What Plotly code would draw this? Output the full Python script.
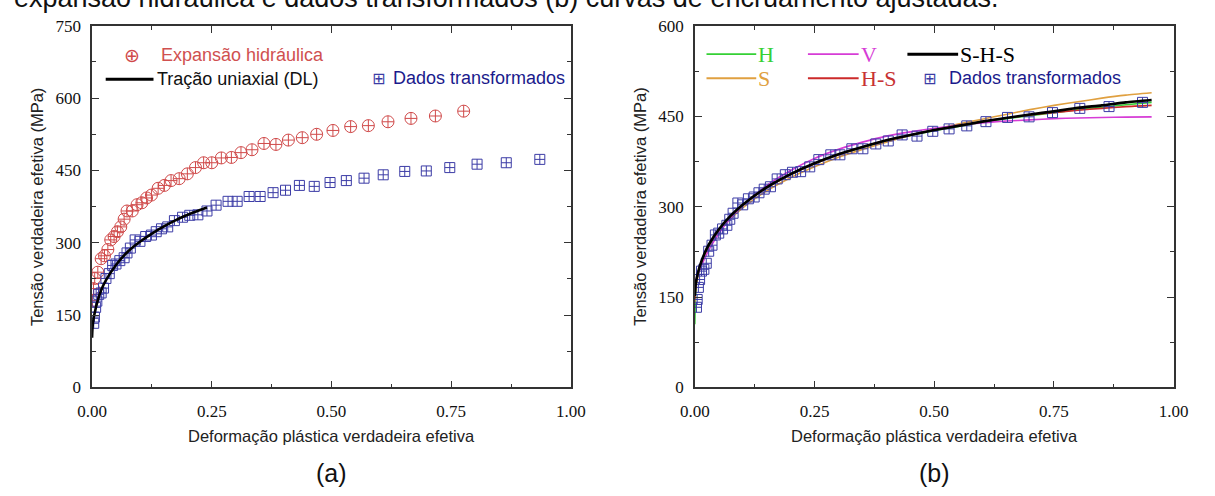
import plotly.graph_objects as go

# ---------------- data ----------------
strain_exp = [0.001, 0.003, 0.0055, 0.012, 0.019, 0.026, 0.033, 0.039, 0.046, 0.053,
              0.060, 0.067, 0.073, 0.084, 0.094, 0.104, 0.114, 0.124, 0.138, 0.151,
              0.165, 0.182, 0.199, 0.216, 0.233, 0.250, 0.270, 0.291, 0.311, 0.334,
              0.359, 0.384, 0.410, 0.439, 0.469, 0.503, 0.540, 0.577, 0.618, 0.666,
              0.717, 0.776]
stress_exp = [180, 205, 226, 239, 267, 273, 286, 306, 313, 323,
              333, 349, 366, 366, 379, 383, 393, 399, 413, 419,
              429, 433, 443, 456, 466, 466, 476, 477, 487, 493,
              506, 504, 513, 518, 525, 533, 541, 543, 551, 558,
              563, 573]

strain_tr = [0.0035, 0.005, 0.0075, 0.010, 0.014, 0.019, 0.024, 0.029, 0.036, 0.043,
             0.050, 0.058, 0.067, 0.073, 0.080, 0.090, 0.100, 0.112, 0.124, 0.134,
             0.145, 0.158, 0.172, 0.189, 0.204, 0.221, 0.240, 0.259, 0.284, 0.303,
             0.328, 0.351, 0.378, 0.404, 0.433, 0.464, 0.497, 0.531, 0.568, 0.608,
             0.653, 0.698, 0.747, 0.804, 0.865, 0.935]
stress_tr = [133, 146, 166, 179, 193, 196, 206, 226, 236, 253,
             256, 263, 269, 279, 289, 306, 303, 313, 316, 323,
             329, 333, 346, 353, 357, 358, 366, 378, 386, 386,
             396, 396, 404, 409, 419, 417, 425, 429, 434, 441,
             448, 449, 456, 463, 466, 473]

strain_dl = [0, 0.001, 0.003, 0.005, 0.01, 0.02, 0.03, 0.05, 0.075, 0.1,
             0.125, 0.15, 0.175, 0.2, 0.22, 0.24]
stress_dl = [103, 125, 142, 152, 174, 204, 224, 254, 282, 302,
             319, 334, 347, 358, 366, 373]

strain_fit = [0, 0.002, 0.005, 0.01, 0.02, 0.03, 0.05, 0.075, 0.1, 0.15, 0.2, 0.25,
              0.3, 0.35, 0.4, 0.45, 0.5, 0.55, 0.6, 0.65, 0.7, 0.75, 0.8, 0.85, 0.9, 0.954]
stress_H = [105, 160, 182, 199, 221, 237, 261, 284, 302, 331, 353, 371,
            386, 398, 409, 418, 426, 433, 440, 446, 451, 456, 461, 465, 469, 473]
stress_S = [140, 165, 178, 195, 218, 234, 258, 280, 298, 326, 348, 366,
            382, 395, 407, 418, 428, 437, 445, 453, 461, 468, 474, 480, 485, 489]
stress_V = [172, 178, 185, 195, 213, 229, 255, 281, 302, 335, 360, 380,
            395, 407, 417, 424, 430, 435, 439, 442, 444, 446, 447, 448, 448.5, 449]
stress_HS = [145, 168, 183, 199, 221, 237, 261, 284, 302, 331, 353, 371,
             386, 399, 410, 419, 427, 434, 441, 447, 452, 456, 460, 463, 466, 468]
stress_SHS = [152, 172, 185, 200, 222, 238, 262, 285, 303, 332, 354, 372,
              387, 399, 410, 419, 427, 434, 441, 447, 453, 458, 464, 468, 473, 477]

xticks = [0, 0.25, 0.5, 0.75, 1.0]
yticks_a = [0, 150, 300, 450, 600, 750]
yticks_b = [0, 150, 300, 450, 600]

# ---------------- styles ----------------
W, H = 1215, 496
RED_M = "#d04a4a"
BLUE_M = "#3c3ca6"
C_H = "#35d035"
C_V = "#d63cd6"
C_S = "#e0a040"
C_HS = "#cc2a2a"
SERIF = "Liberation Serif, Times New Roman, serif"
SANS = "Liberation Sans, Arial, sans-serif"


def px(x):
    return x / W


def py(y):
    return 1 - y / H


fig = go.Figure()

# ---- panel (a)
fig.add_trace(go.Scatter(x=strain_exp, y=stress_exp, mode="markers", xaxis="x", yaxis="y",
                         marker=dict(symbol="circle-cross-open", size=12, color=RED_M,
                                     line=dict(width=1, color=RED_M)),
                         showlegend=False))
fig.add_trace(go.Scatter(x=strain_tr, y=stress_tr, mode="markers", xaxis="x", yaxis="y",
                         marker=dict(symbol="square-cross-open", size=10, color=BLUE_M,
                                     line=dict(width=1, color=BLUE_M)),
                         showlegend=False))
fig.add_trace(go.Scatter(x=strain_dl, y=stress_dl, mode="lines", xaxis="x", yaxis="y",
                         line=dict(color="#000000", width=2.6, shape="spline", smoothing=0.6),
                         showlegend=False))

# ---- panel (b)
for yy, col, wd in [(stress_H, C_H, 1.6), (stress_S, C_S, 1.6), (stress_V, C_V, 1.6),
                    (stress_HS, C_HS, 1.6)]:
    fig.add_trace(go.Scatter(x=strain_fit, y=yy, mode="lines", xaxis="x2", yaxis="y2",
                             line=dict(color=col, width=wd, shape="spline", smoothing=0.6),
                             showlegend=False))
fig.add_trace(go.Scatter(x=strain_tr, y=stress_tr, mode="markers", xaxis="x2", yaxis="y2",
                         marker=dict(symbol="square-cross-open", size=10, color=BLUE_M,
                                     line=dict(width=1, color=BLUE_M)),
                         showlegend=False))
fig.add_trace(go.Scatter(x=strain_fit, y=stress_SHS, mode="lines", xaxis="x2", yaxis="y2",
                         line=dict(color="#000000", width=2.6, shape="spline", smoothing=0.6),
                         showlegend=False))

# ---------------- axes ----------------
xdom_a = [79 / W, 570 / W]
xdom_b = [697 / W, 1188 / W]
ydom = [1 - 393.5 / H, 1 - 17.5 / H]

common = dict(showgrid=False, zeroline=False, showline=True, linecolor="#333333", linewidth=1.5,
              mirror="ticks", ticks="inside", ticklen=7, tickwidth=1.2, tickcolor="#333333",
              tickfont=dict(family=SERIF, size=17, color="#111111"))
minor_x = dict(dtick=0.125, ticks="inside", ticklen=4, tickcolor="#333333")
minor_y = dict(dtick=75, ticks="inside", ticklen=4, tickcolor="#333333")

fig.update_layout(
    xaxis=dict(domain=xdom_a, range=[0, 1], tickvals=xticks, tickformat=".2f", anchor="y",
               ticklabelstandoff=7, minor=minor_x, **common),
    yaxis=dict(domain=ydom, range=[0, 750], tickvals=yticks_a, anchor="x",
               ticklabelstandoff=6, minor=minor_y, **common),
    xaxis2=dict(domain=xdom_b, range=[0, 1], tickvals=xticks, tickformat=".2f", anchor="y2",
                ticklabelstandoff=7, minor=minor_x, **common),
    yaxis2=dict(domain=ydom, range=[0, 600], tickvals=yticks_b, anchor="x2",
                ticklabelstandoff=6, minor=minor_y, **common),
)

# ---------------- text ----------------
ann = []
ann.append(dict(text="expansão hidráulica e dados transformados (b) curvas de encruamento ajustadas.",
                x=0, y=1, xref="paper", yref="paper", xanchor="left", yanchor="bottom",
                xshift=-3, yshift=-6, showarrow=False,
                font=dict(family=SANS, size=27, color="#111111")))
for xc, lab in [(324.5, "(a)"), (942.5, "(b)")]:
    ann.append(dict(text="Deformação plástica verdadeira efetiva", x=px(xc), y=py(444),
                    xref="paper", yref="paper", xanchor="center", yanchor="middle",
                    showarrow=False, font=dict(family=SANS, size=16.5, color="#222222")))
    ann.append(dict(text=lab, x=px(xc), y=py(483), xref="paper", yref="paper",
                    xanchor="center", yanchor="middle", showarrow=False,
                    font=dict(family=SANS, size=25, color="#111111")))
for xc in [22, 640]:
    ann.append(dict(text="Tensão verdadeira efetiva (MPa)", x=px(xc), y=py(205.5),
                    xref="paper", yref="paper", xanchor="center", yanchor="middle",
                    textangle=-90, showarrow=False,
                    font=dict(family=SANS, size=16.5, color="#222222")))

# legend (a)
ann.append(dict(text="⊕", x=px(120), y=py(48), xref="paper", yref="paper", xanchor="center",
                yanchor="middle", showarrow=False, font=dict(family="DejaVu Sans", size=19, color=RED_M)))
ann.append(dict(text="Expansão hidráulica", x=px(148), y=py(48), xref="paper", yref="paper",
                xanchor="left", yanchor="middle", showarrow=False,
                font=dict(family=SANS, size=18, color="#d05050")))
ann.append(dict(text="Tração uniaxial (DL)", x=px(144), y=py(73), xref="paper", yref="paper",
                xanchor="left", yanchor="middle", showarrow=False,
                font=dict(family=SANS, size=18, color="#111111")))
ann.append(dict(text="⊞", x=px(373), y=py(72), xref="paper", yref="paper", xanchor="center",
                yanchor="middle", showarrow=False, font=dict(family="DejaVu Sans", size=16, color=BLUE_M)))
ann.append(dict(text="Dados transformados", x=px(386), y=py(72), xref="paper", yref="paper",
                xanchor="left", yanchor="middle", showarrow=False,
                font=dict(family=SANS, size=18, color="#1a1a8c")))

# legend (b)
leg_b = [("H", C_H, 709, 760, 47, 1.8), ("V", C_V, 813, 865, 47, 1.8), ("S-H-S", "#000000", 915, 967, 47, 3),
         ("S", C_S, 709, 760, 72, 1.8), ("H-S", C_HS, 813, 865, 72, 1.8)]
shapes = []
for lab, col, x0, x1, yc, wd in leg_b:
    shapes.append(dict(type="line", xref="paper", yref="paper", x0=px(x0), x1=px(x1),
                       y0=py(yc), y1=py(yc), line=dict(color=col, width=wd)))
    ann.append(dict(text=lab, x=px(x1), y=py(yc), xref="paper", yref="paper",
                    xanchor="left", yanchor="middle", showarrow=False,
                    font=dict(family=SERIF, size=22, color=col if col != C_HS else "#c83232")))
shapes.append(dict(type="line", xref="paper", yref="paper", x0=px(93), x1=px(142),
                   y0=py(73), y1=py(73), line=dict(color="#000000", width=3)))
ann.append(dict(text="⊞", x=px(938), y=py(72), xref="paper", yref="paper", xanchor="center",
                yanchor="middle", showarrow=False, font=dict(family="DejaVu Sans", size=16, color=BLUE_M)))
ann.append(dict(text="Dados transformados", x=px(956), y=py(72), xref="paper", yref="paper",
                xanchor="left", yanchor="middle", showarrow=False,
                font=dict(family=SANS, size=18, color="#1a1a8c")))

fig.update_layout(annotations=ann, shapes=shapes, width=W, height=H,
                  margin=dict(l=0, r=0, t=0, b=0), paper_bgcolor="white", plot_bgcolor="white",
                  showlegend=False)

fig.write_html("out.html", include_plotlyjs=True, full_html=True,
               config={"displayModeBar": False},
               post_script="document.body.style.margin='0';document.body.style.overflow='hidden';")
